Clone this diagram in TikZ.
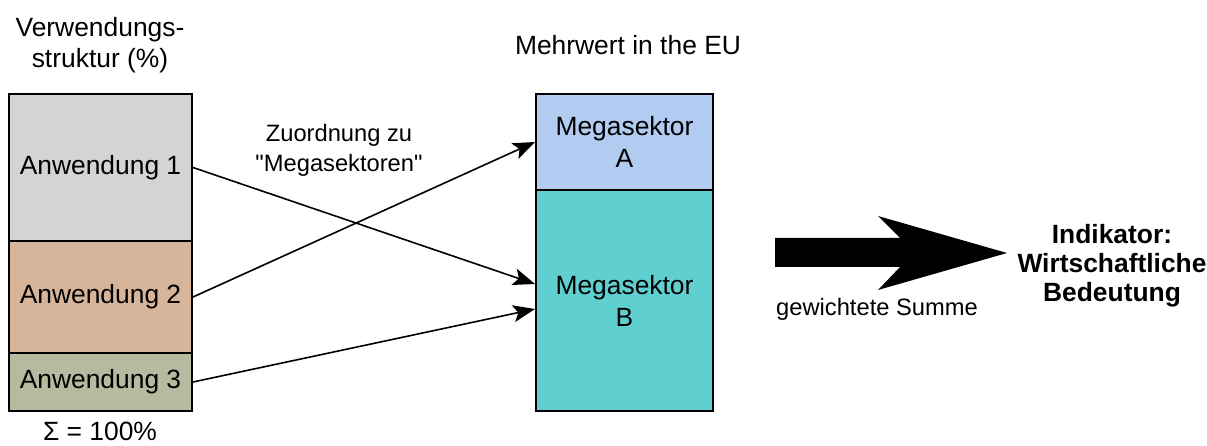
\documentclass[tikz,border=0pt]{standalone}
\usepackage{fontspec}
\setmainfont{Liberation Sans}
\usetikzlibrary{arrows.meta}
\definecolor{cAone}{RGB}{212,212,212}
\definecolor{cAtwo}{RGB}{214,181,155}
\definecolor{cAthree}{RGB}{181,187,158}
\definecolor{cMA}{RGB}{178,203,240}
\definecolor{cMB}{RGB}{96,207,207}
\tikzset{
  seg/.style={draw=black, line width=2pt, rectangle, inner sep=0pt, anchor=north west, align=center,
              font=\fontsize{26.4}{32}\selectfont},
  lbl/.style={align=center, inner sep=0pt, font=\fontsize{26.4}{30.5}\selectfont},
  small/.style={align=center, inner sep=0pt, font=\fontsize{23.7}{30}\selectfont},
  bold/.style={align=center, inner sep=0pt, font=\fontsize{26.4}{29}\selectfont\bfseries},
  conn/.style={line width=1.6pt, -{Stealth[length=22pt,width=17pt,inset=5pt]}},
}
\begin{document}
\begin{tikzpicture}[x=1pt,y=-1pt]
\useasboundingbox (0,0) rectangle (1207,446);
% left stack
\node[seg, fill=cAone, minimum width=183pt, minimum height=147pt] (a1) at (8,93) {Anwendung 1};
\node[seg, fill=cAtwo, minimum width=183pt, minimum height=112pt] (a2) at (8,240) {Anwendung 2};
\node[seg, fill=cAthree, minimum width=183pt, minimum height=58pt] (a3) at (8,352) {Anwendung 3};
% right stack
\node[seg, fill=cMA, minimum width=177pt, minimum height=96pt] (ma) at (535,93) {Megasektor\\A};
\node[seg, fill=cMB, minimum width=177pt, minimum height=221pt] (mb) at (535,189) {Megasektor\\B};
% labels
\node[lbl] (t1) at (100,45) {Verwendungs-\\struktur (\%)};
\node[lbl] (t2) at (100,431) {Σ = 100\%};
\node[lbl] (t3) at (628,45) {Mehrwert in the EU};
\node[small] (t4) at (339,150) {Zuordnung zu\\\textquotedbl Megasektoren\textquotedbl};
\node[small] (t5) at (877,309) {gewichtete Summe};
\node[bold] (t6) at (1112,266) {Indikator:\\Wirtschaftliche\\Bedeutung};
% connectors
\draw[conn] (a1.east) -- ([yshift=16.5pt]mb.west);
\draw[conn] (a2.east) -- (ma.west);
\draw[conn] (a3.east) -- ([yshift=-8.5pt]mb.west);
% big arrow
\coordinate (bt) at (1007,253);
\fill[black] (775,238) -- (900,238) -- (878,216) -- (bt) -- (878,290) -- (900,267) -- (775,267) -- cycle;
\end{tikzpicture}
\end{document}
